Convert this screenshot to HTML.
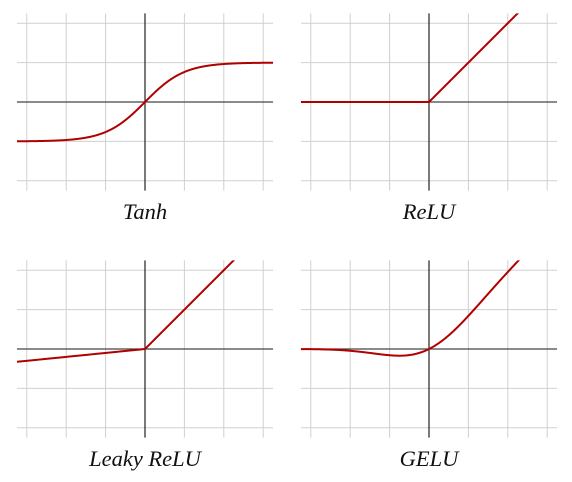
<!DOCTYPE html>
<html><head><meta charset="utf-8"><style>
html,body{margin:0;padding:0;background:#fff;}
svg{display:block;}
text{font-family:"Liberation Serif",serif;font-style:italic;font-size:22.5px;fill:#111;}
</style></head><body>
<svg id="c" width="572" height="482" xmlns="http://www.w3.org/2000/svg"></svg>
<script>
const titles = ["Tanh","ReLU","Leaky ReLU","GELU"];
const origins = [[145,102],[429,102],[145,349],[429,349]];
const gridUnits = [-3,-2,-1,1,2,3];
const gridUnitsY = [-2,-1,1,2];
const leakySlope = 0.1;
const unit = 39.4;
const xMin = -3.25, xMax = 3.25, yMin = -2.25, yMax = 2.25;
function erf(x){const s=Math.sign(x);x=Math.abs(x);const t=1/(1+0.3275911*x);
 const y=1-(((((1.061405429*t-1.453152027)*t)+1.421413741)*t-0.284496736)*t+0.254829592)*t*Math.exp(-x*x);return s*y;}
const fns = [
 x=>Math.tanh(x),
 x=>Math.max(0,x),
 x=>x>0?x:leakySlope*x,
 x=>0.5*x*(1+erf(x/Math.SQRT2))
];
const NS="http://www.w3.org/2000/svg";
const svg=document.getElementById('c');
function mk(tag,attrs,parent){const e=document.createElementNS(NS,tag);for(const k in attrs)e.setAttribute(k,attrs[k]);(parent||svg).appendChild(e);return e;}
const defs=mk('defs',{});
titles.forEach((t,i)=>{
 const [ox,oy]=origins[i];
 const sx=v=>ox+v*unit, sy=v=>oy-v*unit;
 const g=mk('g',{});
 
 
 const cp=mk('clipPath',{id:'cp'+i},defs);
 mk('rect',{x:sx(xMin),y:sy(yMax),width:(xMax-xMin)*unit,height:(yMax-yMin)*unit},cp);
 gridUnits.forEach(u=>{const l=mk('line',{x1:sx(u),x2:sx(u),y1:sy(yMax),y2:sy(yMin),stroke:'#d0d0d0','stroke-width':1},g);
  
  });
 gridUnitsY.forEach(u=>{const l=mk('line',{x1:sx(xMin),x2:sx(xMax),y1:sy(u),y2:sy(u),stroke:'#d0d0d0','stroke-width':1},g);
  
  });
 const xa=mk('line',{x1:sx(xMin),x2:sx(xMax),y1:oy,y2:oy,stroke:'#444','stroke-width':1.2},g);
 
 
 const ya=mk('line',{x1:ox,x2:ox,y1:sy(yMax),y2:sy(yMin),stroke:'#222','stroke-width':1.2},g);
 
 
 let d='';
 for(let k=0;k<=400;k++){const x=xMin+(xMax-xMin)*k/400;const y=fns[i](x);d+=(k?'L':'M')+sx(x).toFixed(2)+','+sy(y).toFixed(2);}
 const p=mk('path',{d:d,fill:'none',stroke:'#b00000','stroke-width':2,'clip-path':'url(#cp'+i+')'},g);
 
 
 const tx=mk('text',{x:ox,y:oy+117,'text-anchor':'middle'},g);
 tx.textContent=t;
 
 
});
</script>
</body></html>
